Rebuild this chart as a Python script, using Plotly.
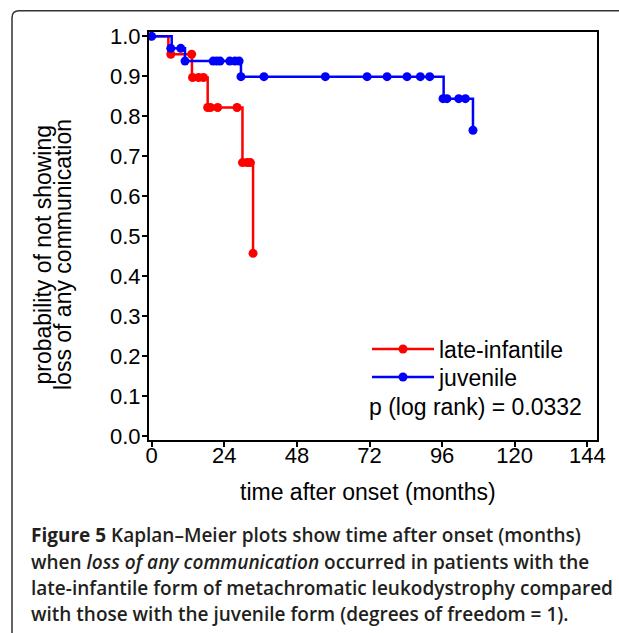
import plotly.graph_objects as go

# ---- data ----
x_ticks = [0, 24, 48, 72, 96, 120, 144]
y_ticks = [0.0, 0.1, 0.2, 0.3, 0.4, 0.5, 0.6, 0.7, 0.8, 0.9, 1.0]

# step functions (time of change, survival after change)
late_step_t = [0, 5.5, 13.3, 18.5, 30.0, 33.5]
late_step_s = [1.0, 0.955, 0.897, 0.822, 0.684, 0.457]
juv_step_t = [0, 6.6, 11.0, 29.5, 96.5, 106.2]
juv_step_s = [1.0, 0.970, 0.938, 0.899, 0.844, 0.765]

# observation markers
late_obs_t = [6.3, 13.2, 13.5, 15.5, 17.1, 18.5, 19.4, 21.8, 28.2, 30.0, 31.5, 32.6, 33.5]
late_obs_s = [0.955, 0.955, 0.897, 0.897, 0.897, 0.822, 0.822, 0.822, 0.822, 0.684, 0.684, 0.684, 0.457]
juv_obs_t = [0, 6.3, 9.6, 11.0, 20.3, 21.5, 22.6, 25.8, 27.5, 28.9, 29.5, 37.1, 57.4,
             71.2, 77.8, 84.4, 88.8, 91.9, 96.3, 97.6, 101.5, 103.7, 106.2]
juv_obs_s = [1.0, 0.970, 0.970, 0.938, 0.938, 0.938, 0.938, 0.938, 0.938, 0.938, 0.899, 0.899, 0.899,
             0.899, 0.899, 0.899, 0.899, 0.899, 0.844, 0.844, 0.844, 0.844, 0.765]

series_names = ["late-infantile", "juvenile"]
RED = "#FF0000"
BLUE = "#0000FF"
FONT = "Liberation Sans, Arial, sans-serif"

W, H = 619, 633
L, R, T, B = 149, 22, 32, 193
pw, ph = W - L - R, H - T - B


def px_x(p):
    return (p - L) / pw


def px_y(p):
    return (H - B - p) / ph


fig = go.Figure()
for t, s, c in [(late_step_t, late_step_s, RED), (juv_step_t, juv_step_s, BLUE)]:
    fig.add_trace(go.Scatter(x=t, y=s, mode="lines", line=dict(color=c, width=2.5, shape="hv"),
                             showlegend=False, hoverinfo="skip"))
for t, s, c in [(late_obs_t, late_obs_s, RED), (juv_obs_t, juv_obs_s, BLUE)]:
    fig.add_trace(go.Scatter(x=t, y=s, mode="markers", marker=dict(color=c, size=9),
                             showlegend=False))
for name, c, lg in zip(series_names, [RED, BLUE], ["legend", "legend2"]):
    fig.add_trace(go.Scatter(x=[None], y=[None], mode="lines+markers", name=name, legend=lg,
                             line=dict(color=c, width=2.5), marker=dict(color=c, size=9)))

axis_common = dict(showline=True, linecolor="black", linewidth=2, mirror=True,
                   ticks="outside", ticklen=5, tickwidth=2, tickcolor="black",
                   showgrid=False, zeroline=False,
                   tickfont=dict(family=FONT, size=22, color="black"))
fig.update_xaxes(range=[-0.9, 147.2], tickvals=x_ticks, ticktext=[str(v) for v in x_ticks],
                 ticklabelstandoff=-10, **axis_common)
fig.update_yaxes(range=[-0.01, 1.0108], tickvals=y_ticks, ticktext=[f"{v:.1f}" for v in y_ticks],
                 ticklabelstandoff=-3, **axis_common)

ann = []
# axis titles
ann.append(dict(text="time after onset (months)", x=px_x(367.5), y=px_y(492), xref="paper", yref="paper",
                showarrow=False, xanchor="center", yanchor="middle",
                font=dict(family=FONT, size=23, color="black")))
for txt, cx in [("probability of not showing", 42.5), ("loss of any communication", 63)]:
    ann.append(dict(text=txt, x=px_x(cx), y=px_y(255), xref="paper", yref="paper", textangle=-90,
                    showarrow=False, xanchor="center", yanchor="middle",
                    font=dict(family=FONT, size=23, color="black")))
ann.append(dict(text="p (log rank) = 0.0332", x=px_x(584), y=px_y(407), xref="paper", yref="paper",
                showarrow=False, xanchor="right", yanchor="middle",
                font=dict(family=FONT, size=23, color="black")))

cap_lines = [
    "<b>Figure 5</b> Kaplan–Meier plots show time after onset (months)",
    "when <i>loss of any communication</i> occurred in patients with the",
    "late-infantile form of metachromatic leukodystrophy compared",
    "with those with the juvenile form (degrees of freedom = 1).",
]
cap_y = [535, 561.5, 588, 614]
for txt, yy in zip(cap_lines, cap_y):
    ann.append(dict(text=txt, x=px_x(29), y=px_y(yy), xref="paper", yref="paper",
                    showarrow=False, xanchor="left", yanchor="middle",
                    font=dict(family="Open Sans, sans-serif", size=19, color="#231F20", weight=600)))

# frame border (left + top with rounded corner)
x0, y0 = px_x(12), px_y(10.7)
r_x, r_y = 7 / pw, 7 / ph
border = (f"M {x0},{px_y(640)} L {x0},{y0 - r_y} Q {x0},{y0} {x0 + r_x},{y0} L {px_x(625)},{y0}")

leg_common = dict(xanchor="left", yanchor="middle", font=dict(family=FONT, size=23, color="black"),
                  itemwidth=62, bgcolor="rgba(0,0,0,0)")
fig.update_layout(
    width=W, height=H, margin=dict(l=L, r=R, t=T, b=B),
    paper_bgcolor="white", plot_bgcolor="white",
    showlegend=True,
    legend=dict(x=px_x(367), y=px_y(349), **leg_common),
    legend2=dict(x=px_x(367), y=px_y(377), **leg_common),
    annotations=ann,
    shapes=[dict(type="path", path=border, xref="paper", yref="paper",
                 line=dict(color="#333333", width=1.5), layer="above")],
)

fig.write_html("out.html", config={"displayModeBar": False},
               post_script="document.body.style.margin='0';document.body.style.padding='0';")
